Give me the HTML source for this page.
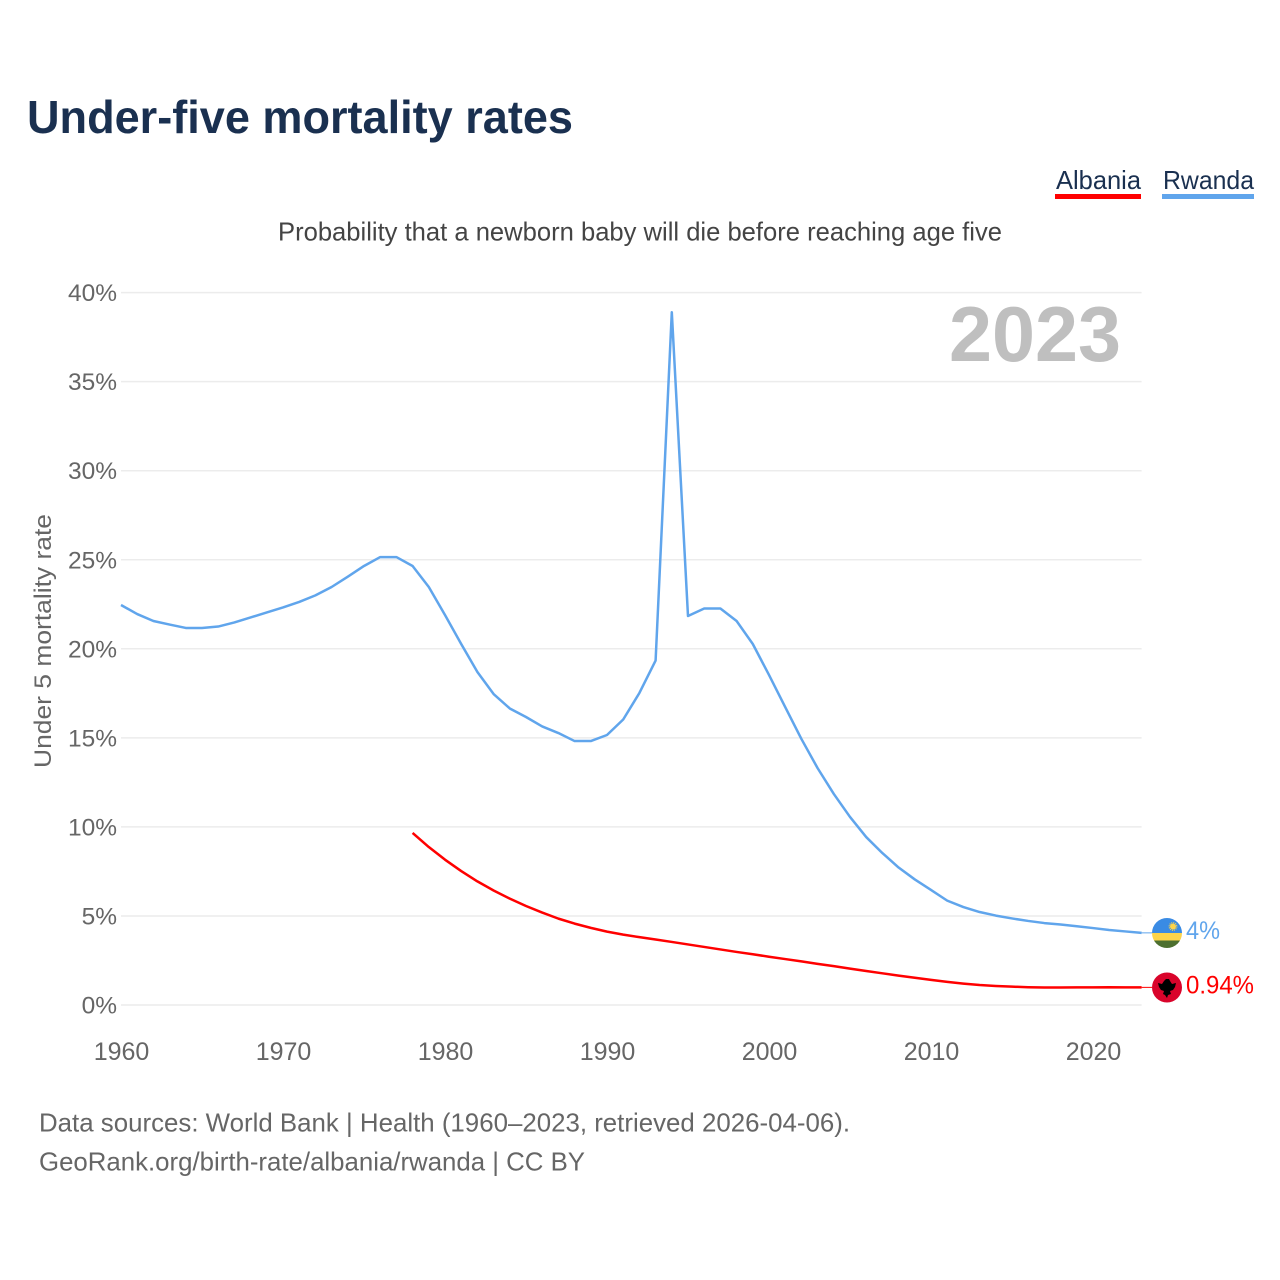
<!DOCTYPE html>
<html lang="en">
<head>
<meta charset="utf-8">
<title>Under-five mortality rates</title>
<style>
html,body{margin:0;padding:0;background:#fff;width:1280px;height:1280px;overflow:hidden}
svg{display:block;font-family:"Liberation Sans",sans-serif}
</style>
</head>
<body>
<svg id="chart" xmlns="http://www.w3.org/2000/svg" width="1280" height="1280" viewBox="0 0 1280 1280">
  <rect width="1280" height="1280" fill="#fff"/>
  <text x="27" y="133" font-size="46" font-weight="700" fill="#1a3050" textLength="546" lengthAdjust="spacingAndGlyphs">Under-five mortality rates</text>
  <g>
    <text x="1056" y="189" font-size="26" fill="#1a3050" textLength="85" lengthAdjust="spacingAndGlyphs">Albania</text>
    <rect x="1055" y="194" width="86" height="5" fill="#ff0000"/>
  </g>
  <g>
    <text x="1163" y="189" font-size="26" fill="#1a3050" textLength="91" lengthAdjust="spacingAndGlyphs">Rwanda</text>
    <rect x="1162" y="194" width="92" height="5" fill="#60a5ec"/>
  </g>
  <text x="278" y="240.5" font-size="26" fill="#444" textLength="724" lengthAdjust="spacingAndGlyphs">Probability that a newborn baby will die before reaching age five</text>
  <text transform="translate(51,768) rotate(-90)" x="0" y="0" font-size="24.5" fill="#666" textLength="254" lengthAdjust="spacingAndGlyphs">Under 5 mortality rate</text>
  <g id="grid"></g>
  <g id="yticks"></g>
  <g id="xticks"></g>
  <text x="949" y="361" font-size="78" font-weight="700" fill="#bfbfbf" textLength="172" lengthAdjust="spacingAndGlyphs">2023</text>
  <g id="series"></g>
  <g id="flag-rwanda">
    <clipPath id="clip-rw"><circle cx="1167" cy="933" r="15"/></clipPath>
    <g clip-path="url(#clip-rw)">
      <rect x="1152" y="918" width="30" height="15" fill="#3a8be4"/>
      <rect x="1152" y="933" width="30" height="7.5" fill="#fdd44a"/>
      <rect x="1152" y="940.5" width="30" height="7.5" fill="#4d7030"/>
      <circle cx="1173" cy="926.5" r="3" fill="#fdd44a"/>
      <circle cx="1173" cy="926.5" r="3.8" fill="none" stroke="#fdd44a" stroke-width="1.2" stroke-dasharray="1 1"/>
    </g>
  </g>
  <g id="flag-albania">
    <circle cx="1167" cy="987.5" r="15" fill="#d9042b"/>
    <polygon fill="#000" points="1158,983 1162,984 1164,981 1166,979 1169,979 1170,981 1172,984 1176,983 1175,987 1173,990 1170,991 1171,994 1168,995 1167,998 1165,995 1163,994 1164,991 1161,990 1159,987"/>
  </g>
  <text id="label-rwanda" x="1186" font-size="25" fill="#60a5ec" textLength="34" lengthAdjust="spacingAndGlyphs">4%</text>
  <text id="label-albania" x="1186" font-size="25" fill="#ff0000" textLength="68" lengthAdjust="spacingAndGlyphs">0.94%</text>
  <text x="39" y="1131.5" font-size="26" fill="#666" textLength="811" lengthAdjust="spacingAndGlyphs">Data sources: World Bank | Health (1960–2023, retrieved 2026-04-06).</text>
  <text x="39" y="1170.5" font-size="26" fill="#666" textLength="546" lengthAdjust="spacingAndGlyphs">GeoRank.org/birth-rate/albania/rwanda | CC BY</text>
</svg>
<script>
const rwandaYears = [1960,1961,1962,1963,1964,1965,1966,1967,1968,1969,1970,1971,1972,1973,1974,1975,1976,1977,1978,1979,1980,1981,1982,1983,1984,1985,1986,1987,1988,1989,1990,1991,1992,1993,1994,1995,1996,1997,1998,1999,2000,2001,2002,2003,2004,2005,2006,2007,2008,2009,2010,2011,2012,2013,2014,2015,2016,2017,2018,2019,2020,2021,2022,2023];
const rwandaValues = [22.46,21.95,21.56,21.36,21.17,21.17,21.25,21.48,21.76,22.04,22.32,22.63,23.0,23.47,24.05,24.65,25.15,25.15,24.65,23.47,21.9,20.27,18.7,17.46,16.65,16.17,15.64,15.27,14.82,14.82,15.16,16.03,17.52,19.34,38.9,21.84,22.26,22.26,21.56,20.27,18.53,16.73,14.94,13.3,11.85,10.56,9.43,8.53,7.72,7.05,6.46,5.86,5.5,5.22,5.02,4.86,4.72,4.6,4.52,4.42,4.32,4.21,4.13,4.05];
const albaniaYears = [1978,1979,1980,1981,1982,1983,1984,1985,1986,1987,1988,1989,1990,1991,1992,1993,1994,1995,1996,1997,1998,1999,2000,2001,2002,2003,2004,2005,2006,2007,2008,2009,2010,2011,2012,2013,2014,2015,2016,2017,2018,2019,2020,2021,2022,2023];
const albaniaValues = [9.66,8.87,8.16,7.52,6.94,6.43,5.97,5.56,5.19,4.85,4.57,4.33,4.12,3.95,3.81,3.68,3.54,3.4,3.26,3.12,2.98,2.85,2.71,2.58,2.45,2.31,2.18,2.04,1.91,1.78,1.65,1.53,1.41,1.3,1.2,1.12,1.07,1.03,1.0,0.98,0.98,0.99,0.99,1.0,0.99,0.99];
const yTickValues = [0,5,10,15,20,25,30,35,40];
const xTickYears = [1960,1970,1980,1990,2000,2010,2020];

const svgNS = 'http://www.w3.org/2000/svg';
const xScale = year => 121 + (year - 1960) * 16.2;
const yScale = value => 1005 - value * 17.81;
const xEnd = xScale(2023);

function make(tag, attrs, parent) {
  const el = document.createElementNS(svgNS, tag);
  for (const k in attrs) el.setAttribute(k, attrs[k]);
  parent.appendChild(el);
  return el;
}

const gridGroup = document.getElementById('grid');
const yTickGroup = document.getElementById('yticks');
yTickValues.forEach(v => {
  const line = make('line', {x1: xScale(1960), x2: xEnd, y1: yScale(v), y2: yScale(v), stroke: '#ececec', 'stroke-width': 1.5}, gridGroup);
  
  
  const label = make('text', {x: 117, y: yScale(v) + 8.5, 'text-anchor': 'end', 'font-size': 24.5, fill: '#666'}, yTickGroup);
  
  
  label.textContent = v + '%';
});

const xTickGroup = document.getElementById('xticks');
xTickYears.forEach(year => {
  const label = make('text', {x: xScale(year) + 0.5, y: 1060, 'text-anchor': 'middle', 'font-size': 25, fill: '#666'}, xTickGroup);
  
  
  label.textContent = year;
});

function drawSeries(years, values, color, name, labelId) {
  const group = document.getElementById('series');
  const pts = years.map((y, i) => xScale(y).toFixed(2) + ',' + yScale(values[i]).toFixed(2)).join(' ');
  const line = make('polyline', {points: pts, fill: 'none', stroke: color, 'stroke-width': 2.5, 'stroke-linejoin': 'round'}, group);
  
  
  const lastY = yScale(values[values.length - 1]);
  const connector = make('line', {x1: xEnd, x2: 1152, y1: lastY, y2: lastY, stroke: color, 'stroke-width': 1}, group);
  
  
  document.getElementById(labelId).setAttribute('y', lastY + 6);
}
drawSeries(rwandaYears, rwandaValues, '#60a5ec', 'rwanda', 'label-rwanda');
drawSeries(albaniaYears, albaniaValues, '#ff0000', 'albania', 'label-albania');
</script>
</body>
</html>
